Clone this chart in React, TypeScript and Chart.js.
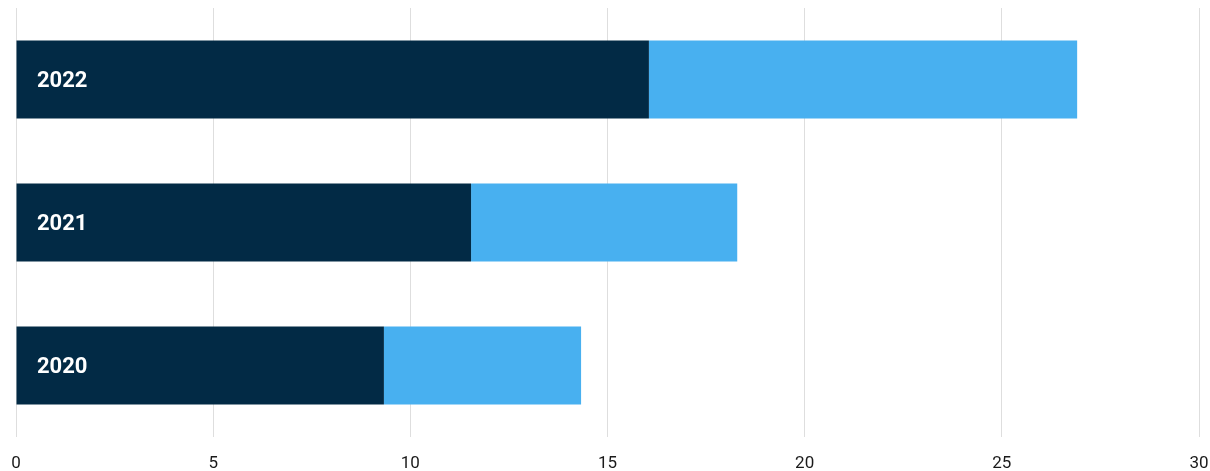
import React, { useEffect, useRef } from "react";
import { Chart, registerables } from "chart.js";

Chart.register(...registerables);

const categories = ["2022", "2021", "2020"];
const darkValues = [16.05, 11.54, 9.33];
const lightValues = [10.86, 6.75, 5.0];
const xTicks = [0, 5, 10, 15, 20, 25, 30];

const yearLabelPlugin = {
  id: "yearLabels",
  afterDatasetsDraw(chart: any) {
    const { ctx, chartArea, scales } = chart;
    const y = scales.y;
    ctx.save();
    ctx.font = "bold 22px Roboto, 'DejaVu Sans', sans-serif";
    ctx.fillStyle = "#ffffff";
    ctx.textAlign = "left";
    ctx.textBaseline = "middle";
    categories.forEach((c, i) => {
      ctx.fillText(c, chartArea.left + 21, y.getPixelForValue(i) + 2);
    });
    ctx.restore();
  },
};

export default function App() {
  const ref = useRef<HTMLCanvasElement>(null);
  useEffect(() => {
    document.body.style.margin = "0";
    const chart = new Chart(ref.current!, {
      type: "bar",
      data: {
        labels: categories,
        datasets: [
          {
            label: "A",
            data: darkValues,
            backgroundColor: "#022a45",
            barPercentage: 0.545,
            categoryPercentage: 1,
          },
          {
            label: "B",
            data: lightValues,
            backgroundColor: "#48b0f0",
            barPercentage: 0.545,
            categoryPercentage: 1,
          },
        ],
      },
      options: {
        indexAxis: "y",
        animation: false,
        responsive: false,
        layout: { padding: { top: 8, left: 16, right: 11, bottom: 0 } },
        plugins: { legend: { display: false }, tooltip: { enabled: false } },
        scales: {
          x: {
            stacked: true,
            min: 0,
            max: 30,
            afterBuildTicks: (s: any) => {
              s.ticks = xTicks.map((v) => ({ value: v }));
            },
            afterFit: (s: any) => {
              s.height = 34;
              s.paddingLeft = 0;
              s.paddingRight = 0;
            },
            grid: { color: "#dedede", drawTicks: false, lineWidth: 1 },
            border: { display: false },
            ticks: {
              padding: 17,
              color: "#1a1a1a",
              font: { family: "Roboto, 'DejaVu Sans', sans-serif", size: 17 },
            },
          },
          y: {
            stacked: true,
            display: false,
          },
        },
      },
      plugins: [yearLabelPlugin],
    });
    return () => chart.destroy();
  }, []);
  return (
    <canvas ref={ref} width={1210} height={471} style={{ display: "block" }} />
  );
}
